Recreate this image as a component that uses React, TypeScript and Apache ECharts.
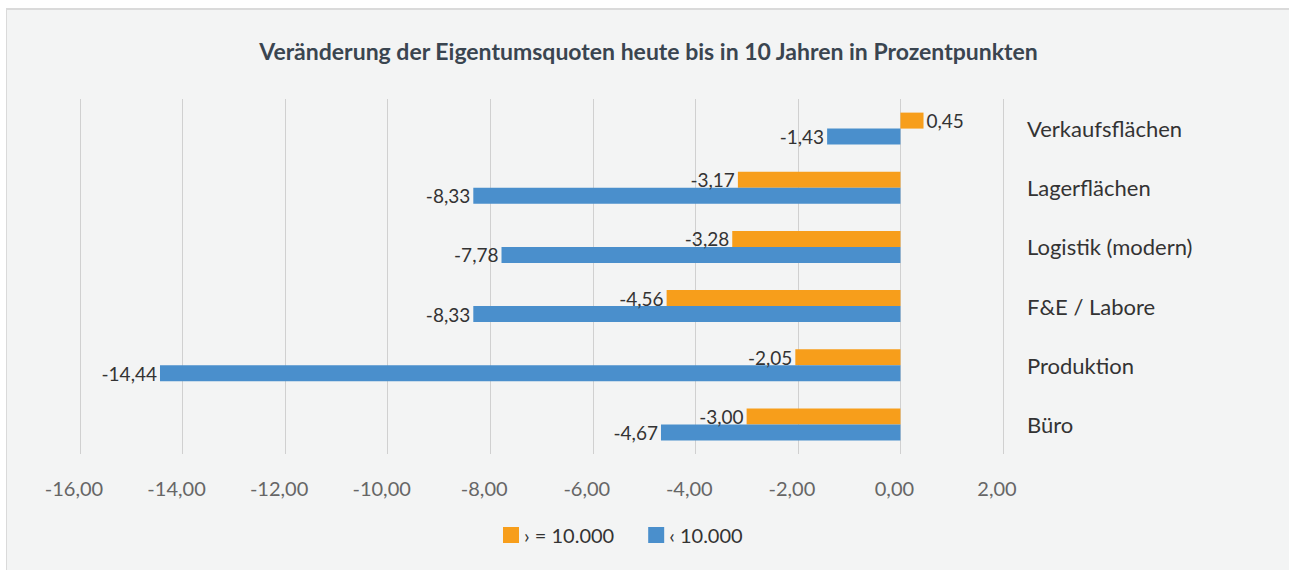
import React, { useEffect, useRef } from "react";
import * as echarts from "echarts";

const categories = ["Verkaufsflächen", "Lagerflächen", "Logistik (modern)", "F&E / Labore", "Produktion", "Büro"];
const seriesNames = ["› = 10.000", "‹ 10.000"];
const bigValues = [0.45, -3.17, -3.28, -4.56, -2.05, -3.0];
const smallValues = [-1.43, -8.33, -7.78, -8.33, -14.44, -4.67];
const titleText = "Veränderung der Eigentumsquoten heute bis in 10 Jahren in Prozentpunkten";

const FONT = "'Source Sans Pro', Lato, 'Noto Sans', sans-serif";
const fmt = (v: number) => v.toFixed(2).replace(".", ",");

export default function App() {
  const ref = useRef<HTMLDivElement>(null);
  useEffect(() => {
    if (!ref.current) return;
    const chart = echarts.init(ref.current, undefined, { renderer: "svg" });
    const mkData = (vals: number[]) =>
      vals.map((v) => ({
        value: v,
        label: { position: v < 0 ? "left" : "right" },
      }));
    const labelCfg = {
      show: true,
      formatter: (p: any) => fmt(p.value),
      fontSize: 19,
      color: "#333",
      distance: 3,
      fontFamily: FONT,
    };
    chart.setOption({
      animation: false,
      textStyle: { fontFamily: FONT },
      title: {
        text: titleText,
        left: "center",
        top: 24,
        textStyle: { fontFamily: FONT, fontSize: 23, fontWeight: "bold", color: "#3a4550" },
      },
      legend: {
        data: seriesNames,
        left: 491,
        top: 510,
        itemWidth: 16,
        itemHeight: 16,
        itemGap: 34,
        icon: "rect",
        textStyle: { fontFamily: FONT, fontSize: 20, color: "#333" },
      },
      grid: { left: 73, right: 287, top: 89, bottom: 116, containLabel: false },
      xAxis: {
        type: "value",
        min: -16,
        max: 2,
        interval: 2,
        axisLine: { show: false },
        axisTick: { show: false },
        splitLine: { show: true, lineStyle: { color: "#d0d0d0", width: 1 } },
        axisLabel: {
          formatter: (v: number) => fmt(v),
          fontSize: 20,
          color: "#666",
          margin: 24,
          fontFamily: FONT,
          padding: [0, 12, 0, 0],
        },
      },
      yAxis: {
        type: "category",
        data: categories,
        position: "right",
        inverse: true,
        axisLine: { show: false },
        axisTick: { show: false },
        splitLine: { show: false },
        axisLabel: { fontSize: 22, color: "#333", margin: 24, fontFamily: FONT },
      },
      series: [
        {
          name: seriesNames[0],
          type: "bar",
          data: mkData(bigValues),
          itemStyle: { color: "#F79E1B" },
          barGap: "0%",
          barCategoryGap: "46%",
          label: labelCfg,
        },
        {
          name: seriesNames[1],
          type: "bar",
          data: mkData(smallValues),
          itemStyle: { color: "#4A8FCC" },
          barGap: "0%",
          barCategoryGap: "46%",
          label: labelCfg,
        },
      ],
    });
    return () => chart.dispose();
  }, []);
  return (
    <div
      style={{
        position: "absolute",
        left: 6,
        top: 8,
        width: 1300,
        height: 580,
        background: "#f3f4f4",
        borderTop: "2px solid #dadada",
        borderLeft: "1px solid #dadada",
      }}
    >
      <div ref={ref} style={{ width: 1283, height: 560 }} />
    </div>
  );
}
